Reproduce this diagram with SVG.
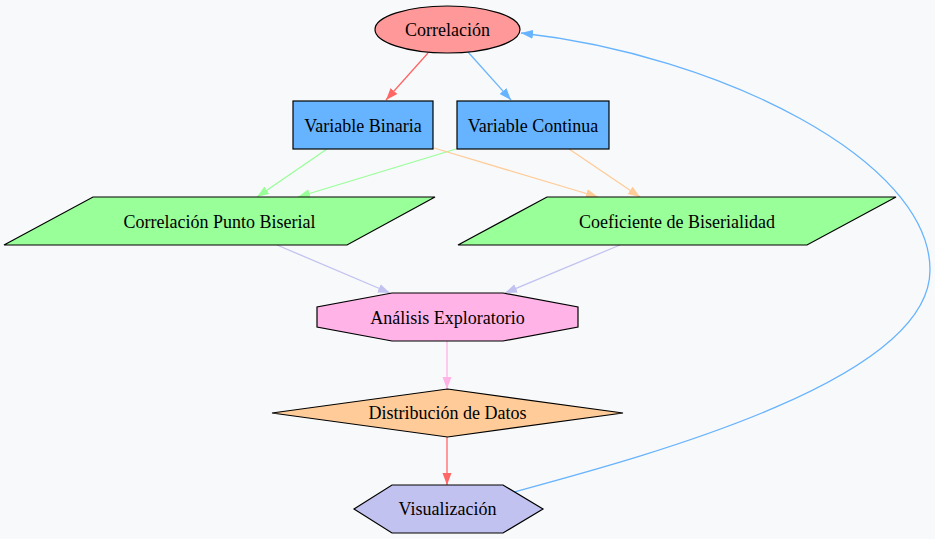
<svg xmlns="http://www.w3.org/2000/svg" width="935" height="539" viewBox="0 0 935 539">
<style>
.n{stroke:#000;stroke-width:1.2}
text{font-family:'Liberation Serif','DejaVu Serif','Times New Roman',serif;font-size:18px;text-anchor:middle;fill:#000}
.e{fill:none;stroke-width:1.3}
</style>
<defs>
<marker id="aR" markerUnits="userSpaceOnUse" markerWidth="12" markerHeight="10" refX="12" refY="5" orient="auto"><path d="M0,0.5 L12,5 L0,9.5z" fill="#ff6666"/></marker>
<marker id="aB" markerUnits="userSpaceOnUse" markerWidth="12" markerHeight="10" refX="12" refY="5" orient="auto"><path d="M0,0.5 L12,5 L0,9.5z" fill="#66b3ff"/></marker>
<marker id="aG" markerUnits="userSpaceOnUse" markerWidth="12" markerHeight="10" refX="12" refY="5" orient="auto"><path d="M0,0.5 L12,5 L0,9.5z" fill="#99ff99"/></marker>
<marker id="aO" markerUnits="userSpaceOnUse" markerWidth="12" markerHeight="10" refX="12" refY="5" orient="auto"><path d="M0,0.5 L12,5 L0,9.5z" fill="#ffcc99"/></marker>
<marker id="aL" markerUnits="userSpaceOnUse" markerWidth="12" markerHeight="10" refX="12" refY="5" orient="auto"><path d="M0,0.5 L12,5 L0,9.5z" fill="#c2c2f0"/></marker>
<marker id="aP" markerUnits="userSpaceOnUse" markerWidth="12" markerHeight="10" refX="12" refY="5" orient="auto"><path d="M0,0.5 L12,5 L0,9.5z" fill="#ffb3e6"/></marker>
</defs>
<rect width="935" height="539" fill="#f8f9fa"/>
<g id="edges">
<path class="e" d="M428,53 L386,100" stroke="#ff6666" marker-end="url(#aR)"/>
<path class="e" d="M468,52 L511,100" stroke="#66b3ff" marker-end="url(#aB)"/>
<path class="e" d="M327,149 L257,197" stroke="#99ff99" marker-end="url(#aG)"/>
<path class="e" d="M456,149 L298,197" stroke="#99ff99" marker-end="url(#aG)"/>
<path class="e" d="M434,148 L598,197" stroke="#ffcc99" marker-end="url(#aO)"/>
<path class="e" d="M569,149 L640,197" stroke="#ffcc99" marker-end="url(#aO)"/>
<path class="e" d="M277,245 L390,293" stroke="#c2c2f0" marker-end="url(#aL)"/>
<path class="e" d="M620,245 L505,293" stroke="#c2c2f0" marker-end="url(#aL)"/>
<path class="e" d="M447,341 L447,389" stroke="#ffb3e6" marker-end="url(#aP)"/>
<path class="e" d="M447,437 L447,485" stroke="#ff6666" marker-end="url(#aR)"/>
<path class="e" d="M514,492 C650,455 930,380 930,270 C930,160 720,55 521,33" stroke="#66b3ff" marker-end="url(#aB)"/>
</g>
<g id="correlacion"><ellipse class="n" cx="447.5" cy="29.5" rx="72.5" ry="23.5" fill="#ff9999"/><text x="447.5" y="36">Correlación</text></g>
<g id="binaria"><rect class="n" x="293" y="101" width="140" height="48" fill="#66b3ff"/><text x="363" y="131.5">Variable Binaria</text></g>
<g id="continua"><rect class="n" x="457" y="101" width="152" height="48" fill="#66b3ff"/><text x="533" y="131.5">Variable Continua</text></g>
<g id="puntobiserial"><polygon class="n" points="93,197 435,197 347,245 4,245" fill="#99ff99"/><text x="219.5" y="227.5">Correlación Punto Biserial</text></g>
<g id="coeficiente"><polygon class="n" points="547,197 896,197 807,245 458,245" fill="#99ff99"/><text x="677" y="227.5">Coeficiente de Biserialidad</text></g>
<g id="analisis"><polygon class="n" points="392,293 503,293 578,307 578,327 503,341 392,341 317,327 317,307" fill="#ffb3e6"/><text x="447.5" y="323.5">Análisis Exploratorio</text></g>
<g id="distribucion"><polygon class="n" points="447.5,389 623,413 447.5,437 272,413" fill="#ffcc99"/><text x="447.5" y="419">Distribución de Datos</text></g>
<g id="visualizacion"><polygon class="n" points="392,485 503,485 543,509 503,533 392,533 354,509" fill="#c2c2f0"/><text x="447.5" y="515">Visualización</text></g>
</svg>
